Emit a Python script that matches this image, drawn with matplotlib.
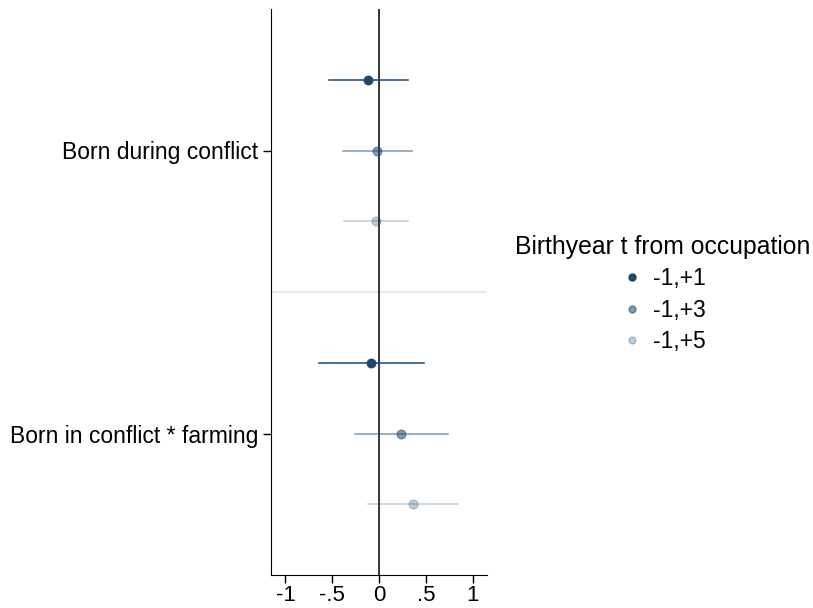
import numpy as np
import matplotlib.pyplot as plt
import matplotlib
from matplotlib.lines import Line2D

matplotlib.rcParams['font.family'] = ['Liberation Sans', 'DejaVu Sans']

# coefficient estimates and confidence intervals
groups = ['Born during conflict', 'Born in conflict * farming']
windows = ['-1,+1', '-1,+3', '-1,+5']

coef_conflict = [-0.118, -0.02, -0.035]
lo_conflict = [-0.54, -0.385, -0.374]
hi_conflict = [0.31, 0.35, 0.31]

coef_farming = [-0.082, 0.239, 0.364]
lo_farming = [-0.638, -0.253, -0.114]
hi_farming = [0.478, 0.734, 0.845]

xticks = [-1, -0.5, 0, 0.5, 1]
xticklabels = ['-1', '-.5', '0', '.5', '1']

navy = (26/255, 71/255, 111/255)
alphas = [1.0, 0.55, 0.28]

fig = plt.figure(figsize=(8.13, 6.08), dpi=100)
ax = fig.add_axes([271/813, 1 - 575/608, (487-271)/813, (575-9)/608])
ax.spines['top'].set_visible(False)
ax.spines['right'].set_visible(False)

ax.axvline(0, color='black', linewidth=1.1, zorder=1)
ax.axhline(4, color='#e0e0e0', linewidth=1.1, zorder=0)

all_coef = [coef_conflict, coef_farming]
all_lo = [lo_conflict, lo_farming]
all_hi = [hi_conflict, hi_farming]
for g in range(2):
    for k in range(3):
        y = 1 + 4*g + k
        col = navy + (alphas[k],)
        ax.plot([all_lo[g][k], all_hi[g][k]], [y, y], color=col, linewidth=1.1, zorder=2)
        ax.plot(all_coef[g][k], y, 'o', color=col, markersize=6.5,
                markeredgecolor=navy + (min(1, alphas[k] + 0.1),), markeredgewidth=0.6, zorder=3)

ax.set_ylim(8, 0)
ax.set_xlim(-1.155, 1.155)
ax.set_yticks([2, 6])
ax.set_yticklabels(groups, fontsize=16.5)
ax.set_xticks(xticks)
ax.set_xticklabels(xticklabels, fontsize=16)
ax.tick_params(axis='y', length=6, width=1, direction='out', pad=3)
ax.tick_params(axis='x', length=6, width=1, direction='out', pad=1)

handles = [Line2D([], [], marker='o', linestyle='none', color=navy + (alphas[k],),
                  markersize=5) for k in range(3)]
leg = fig.legend(handles, windows, title='Birthyear t from occupation',
                 loc='center', bbox_to_anchor=(663/813, 1 - 294/608), frameon=False,
                 fontsize=16.5, title_fontsize=17.8, handletextpad=0.4, labelspacing=0.36,
                 handlelength=1.0)

fig.savefig('out.png', dpi=100)
